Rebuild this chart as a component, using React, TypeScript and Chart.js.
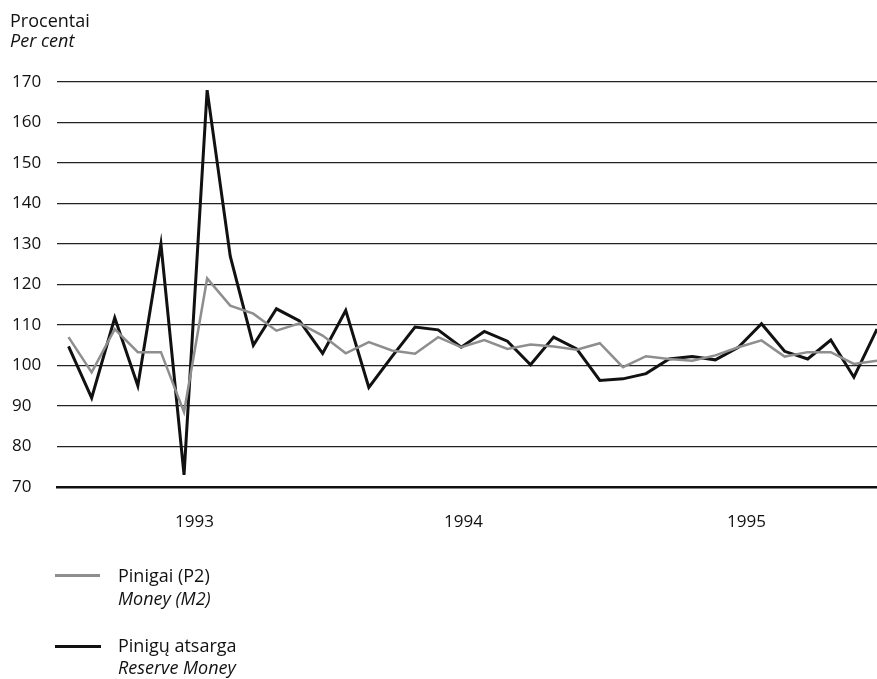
import React, { useEffect, useRef } from "react";
import { Chart, registerables } from "chart.js";
Chart.register(...registerables);

const months = [
  "1992-08", "1992-09", "1992-10", "1992-11", "1992-12",
  "1993-01", "1993-02", "1993-03", "1993-04", "1993-05", "1993-06", "1993-07",
  "1993-08", "1993-09", "1993-10", "1993-11", "1993-12",
  "1994-01", "1994-02", "1994-03", "1994-04", "1994-05", "1994-06", "1994-07",
  "1994-08", "1994-09", "1994-10", "1994-11", "1994-12",
  "1995-01", "1995-02", "1995-03", "1995-04", "1995-05", "1995-06", "1995-07",
];

const moneyM2 = [
  107, 98.3, 109, 103.3, 103.3, 88.5, 121.5, 114.8, 112.8, 108.6, 110.4, 107.4,
  103, 105.8, 103.7, 102.9, 107, 104.5, 106.3, 104.1, 105.2, 104.7, 103.9, 105.5,
  99.6, 102.3, 101.6, 101.2, 102.5, 104.5, 106.2, 102.2, 103.3, 103.3, 100.4, 101.2,
];

const reserveMoney = [
  104.7, 92, 111.8, 95, 130, 73, 168, 127, 105, 114, 111, 103,
  113.6, 94.6, 102.2, 109.5, 108.8, 104.5, 108.4, 106, 100.2, 107, 104.1, 96.3,
  96.7, 98, 101.6, 102.2, 101.4, 104.5, 110.3, 103.5, 101.6, 106.3, 97.1, 109,
];

const yearLabels = ["1993", "1994", "1995"];
const yearTickAt = [5.45, 17.1, 29.35];

const FONT = "'Open Sans', sans-serif";

export default function App() {
  const ref = useRef<HTMLCanvasElement | null>(null);

  useEffect(() => {
    const ctx = ref.current;
    if (!ctx) return;
    const toPts = (arr: number[]) => months.map((_, i) => ({ x: i, y: arr[i] }));
    const chart = new Chart(ctx, {
      type: "line",
      data: {
        datasets: [
          {
            label: "Pinigai (P2) / Money (M2)",
            data: toPts(moneyM2),
            borderColor: "#8e8e8e",
            borderWidth: 2.5,
            pointRadius: 0,
            tension: 0,
          },
          {
            label: "Pinigų atsarga / Reserve Money",
            data: toPts(reserveMoney),
            borderColor: "#111111",
            borderWidth: 3,
            pointRadius: 0,
            tension: 0,
          },
        ],
      },
      options: {
        animation: false,
        responsive: false,
        maintainAspectRatio: false,
        layout: { padding: { top: 82, left: 12, right: 0, bottom: 132 } },
        plugins: { legend: { display: false }, tooltip: { enabled: false } },
        scales: {
          x: {
            type: "linear",
            min: -0.5,
            max: 35,
            grid: { display: false },
            border: { display: true, color: "#111", width: 2.5 },
            afterBuildTicks: (scale: any) => {
              scale.ticks = yearTickAt.map((v) => ({ value: v }));
            },
            afterFit: (scale: any) => {
              scale.height = 60;
            },
            ticks: {
              autoSkip: false,
              maxRotation: 0,
              padding: 17,
              color: "#111",
              font: { family: FONT, size: 17 },
              callback: (_v: any, i: number) => yearLabels[i],
            },
          },
          y: {
            min: 70,
            max: 170,
            grid: { color: "#222", lineWidth: 1.3, drawTicks: false },
            border: { display: false },
            afterFit: (scale: any) => {
              scale.width = 45;
            },
            ticks: {
              stepSize: 10,
              crossAlign: "far",
              padding: 0,
              color: "#111",
              font: { family: FONT, size: 17 },
            },
          },
        },
      },
    });
    return () => chart.destroy();
  }, []);

  const txt: React.CSSProperties = {
    position: "absolute",
    fontFamily: FONT,
    fontSize: 18,
    color: "#111",
    whiteSpace: "nowrap",
    lineHeight: "22px",
  };

  return (
    <div style={{ position: "absolute", left: 0, top: 0, width: 877, height: 679, background: "#fff", overflow: "hidden" }}>
      <canvas ref={ref} width={877} height={679} style={{ position: "absolute", left: 0, top: 0 }} />
      <div style={{ ...txt, left: 10, top: 9 }}>Procentai</div>
      <div style={{ ...txt, left: 10, top: 29, fontStyle: "italic" }}>Per cent</div>

      <div style={{ position: "absolute", left: 55, top: 574, width: 45, height: 3, background: "#8e8e8e" }} />
      <div style={{ ...txt, left: 118, top: 564 }}>Pinigai (P2)</div>
      <div style={{ ...txt, left: 118, top: 587, fontStyle: "italic" }}>Money (M2)</div>

      <div style={{ position: "absolute", left: 55, top: 645, width: 46, height: 3, background: "#111" }} />
      <div style={{ ...txt, left: 118, top: 634 }}>Pinigų atsarga</div>
      <div style={{ ...txt, left: 118, top: 656, fontStyle: "italic" }}>Reserve Money</div>
    </div>
  );
}
